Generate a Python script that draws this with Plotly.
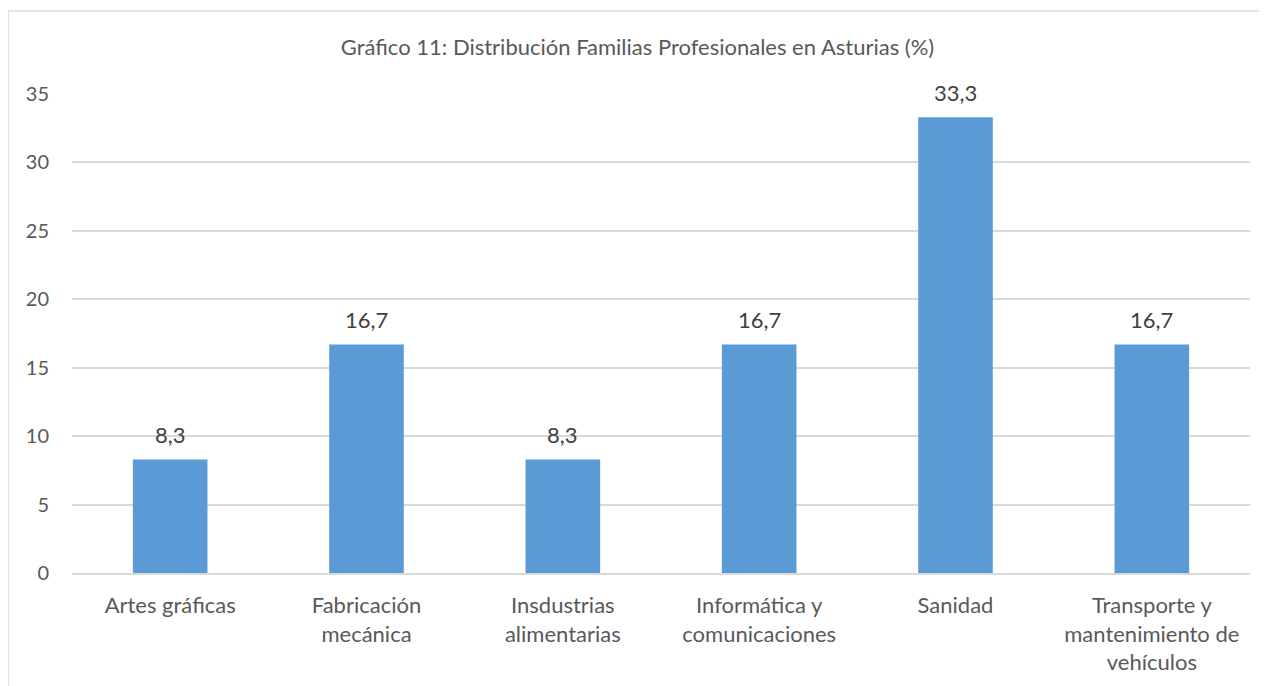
import plotly.graph_objects as go

# datos
familias = ["Artes gráficas", "Fabricación<br>mecánica", "Insdustrias<br>alimentarias",
            "Informática y<br>comunicaciones", "Sanidad",
            "Transporte y<br>mantenimiento de<br>vehículos"]
porcentajes = [8.3, 16.7, 8.3, 16.7, 33.3, 16.7]
ticks_y = [0, 5, 10, 15, 20, 25, 30, 35]

gris = "#595959"
fuente = "Lato"

fig = go.Figure()
fig.add_trace(go.Bar(x=familias, y=porcentajes, marker_color="#5B9BD5",
                     marker_line_width=0, hoverinfo="x+y"))

# etiquetas de datos encima de cada barra
for f, v in zip(familias, porcentajes):
    fig.add_annotation(x=f, y=v, text=f"{v:.1f}".replace(".", ","),
                       showarrow=False, yanchor="bottom", yshift=9,
                       font=dict(size=22, color="#404040", family=fuente))

# borde del area del grafico (la pagina ya tiene 8px de margen)
fig.add_shape(type="rect", xref="paper", yref="paper",
              x0=-0.0543, x1=1.03, y0=-0.25, y1=1.1733,
              line=dict(color="#d9d9d9", width=1.5), layer="below")

fig.update_layout(
    width=1259, height=678,
    margin=dict(l=64, r=17, t=86, b=113),
    paper_bgcolor="white", plot_bgcolor="white",
    separators=",.",
    bargap=0.62,
    showlegend=False,
    font=dict(family=fuente, size=22, color=gris),
    title=dict(text="Gráfico 11: Distribución Familias Profesionales en Asturias (%)",
               x=0.5, xanchor="center", y=1 - 39 / 678, yanchor="middle",
               font=dict(size=22, color=gris, family=fuente)),
)
fig.update_yaxes(range=[0, 35], tickvals=ticks_y, showgrid=True,
                 gridcolor="#d9d9d9", gridwidth=1.5, zeroline=False,
                 showline=False, ticks="", ticklabelstandoff=22,
                 tickfont=dict(size=20, color=gris))
fig.update_xaxes(showline=True, linecolor="#d9d9d9", linewidth=1.5,
                 ticks="", ticklabelstandoff=12,
                 tickfont=dict(size=22, color=gris))

fig.write_html("out.html")
